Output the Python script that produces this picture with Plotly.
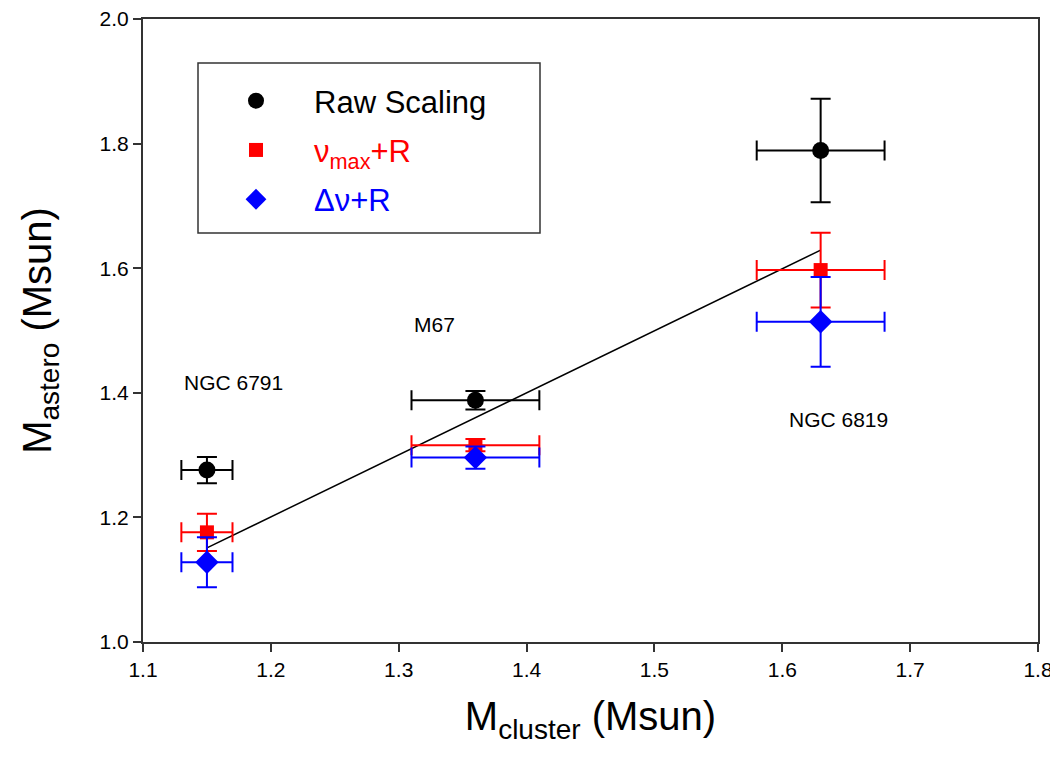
import plotly.graph_objects as go

# Cluster masses (x) with errors
m_cluster = [1.15, 1.36, 1.63]
m_cluster_err = [0.02, 0.05, 0.05]

# Raw scaling
raw_mass = [1.276, 1.388, 1.789]
raw_err = [0.021, 0.015, 0.083]

# numax + R
numax_mass = [1.176, 1.316, 1.597]
numax_err = [0.030, 0.010, 0.060]

# dnu + R
dnu_mass = [1.128, 1.296, 1.514]
dnu_err = [0.040, 0.018, 0.072]

# Fit line
fit_x = [1.15, 1.63]
fit_y = [1.151, 1.629]

# Cluster labels
label_text = ["NGC 6791", "M67", "NGC 6819"]
label_x = [1.171, 1.328, 1.644]
label_y = [1.416, 1.51, 1.357]

x_ticks = [1.1, 1.2, 1.3, 1.4, 1.5, 1.6, 1.7, 1.8]
y_ticks = [1.0, 1.2, 1.4, 1.6, 1.8, 2.0]

FONT = "Liberation Sans, Arial, sans-serif"

OFF = 8  # page body margin
W, H = 1058, 764
# target plot area on screen: x 143..1038, y 19..642
ML = 143 - OFF
MR = W - (1038 - OFF)
MT = 19 - OFF
MB = H - (642 - OFF)
PW, PH = W - ML - MR, H - MT - MB


def px(xs):
    return (xs - OFF - ML) / PW


def py(ys):
    return (H - MB - (ys - OFF)) / PH


fig = go.Figure()

fig.add_trace(go.Scatter(x=fit_x, y=fit_y, mode="lines",
                         line=dict(color="black", width=1.5), showlegend=False))


def add_series(y, yerr, color, symbol, size, name, group):
    fig.add_trace(go.Scatter(
        x=m_cluster, y=y, mode="markers", name=name, legendgroup=group,
        marker=dict(color=color, symbol=symbol, size=size, line=dict(width=0)),
        error_y=dict(type="data", array=yerr, color=color, thickness=2, width=10),
        error_x=dict(type="data", array=m_cluster_err, color=color, thickness=2, width=10),
    ))


add_series(raw_mass, raw_err, "black", "circle", 17,
           "<span style='color:black'>Raw Scaling</span>", "g1")
add_series(numax_mass, numax_err, "#ff0000", "square", 14,
           "<span style='color:#ff0000'>ν<sub>max</sub>+R</span>", "g2")
add_series(dnu_mass, dnu_err, "#0000ff", "diamond", 18,
           "<span style='color:#0000ff'>Δν+R</span>", "g3")

for t, x, y in zip(label_text, label_x, label_y):
    fig.add_annotation(x=x, y=y, text=t, showarrow=False,
                       font=dict(size=21, color="black", family=FONT))

# legend frame
fig.add_shape(type="rect", xref="paper", yref="paper",
              x0=px(198), x1=px(540), y0=py(233), y1=py(63),
              line=dict(color="#333333", width=1.5), fillcolor="rgba(0,0,0,0)")

fig.update_layout(
    width=W, height=H,
    margin=dict(l=ML, r=MR, t=MT, b=MB, autoexpand=False),
    paper_bgcolor="white", plot_bgcolor="white",
    font=dict(family=FONT, color="black"),
    legend=dict(x=px(198), y=py(74), xanchor="left", yanchor="top",
                bgcolor="rgba(0,0,0,0)", borderwidth=0,
                font=dict(size=31, family=FONT), tracegroupgap=6,
                itemwidth=106),
    xaxis=dict(range=[1.1, 1.8], tickvals=x_ticks,
               ticktext=[f"{v:.1f}" for v in x_ticks],
               ticks="outside", ticklen=8, tickwidth=1.5, tickcolor="#333",
               showline=True, linecolor="#333", linewidth=2, mirror=True,
               showgrid=False, zeroline=False, automargin=False,
               ticklabeloverflow="allow",
               tickfont=dict(size=21, family=FONT),
               title=dict(text="M<sub>cluster</sub> (Msun)", font=dict(size=40, family=FONT),
                          standoff=22)),
    yaxis=dict(range=[1.0, 2.0], tickvals=y_ticks,
               ticktext=[f"{v:.1f}" for v in y_ticks],
               ticks="outside", ticklen=8, tickwidth=1.5, tickcolor="#333",
               showline=True, linecolor="#333", linewidth=2, mirror=True,
               showgrid=False, zeroline=False, automargin=False,
               ticklabeloverflow="allow",
               tickfont=dict(size=21, family=FONT),
               title=dict(text="M<sub>astero</sub> (Msun)", font=dict(size=40, family=FONT),
                          standoff=36)),
)

fig.write_html("out.html")
